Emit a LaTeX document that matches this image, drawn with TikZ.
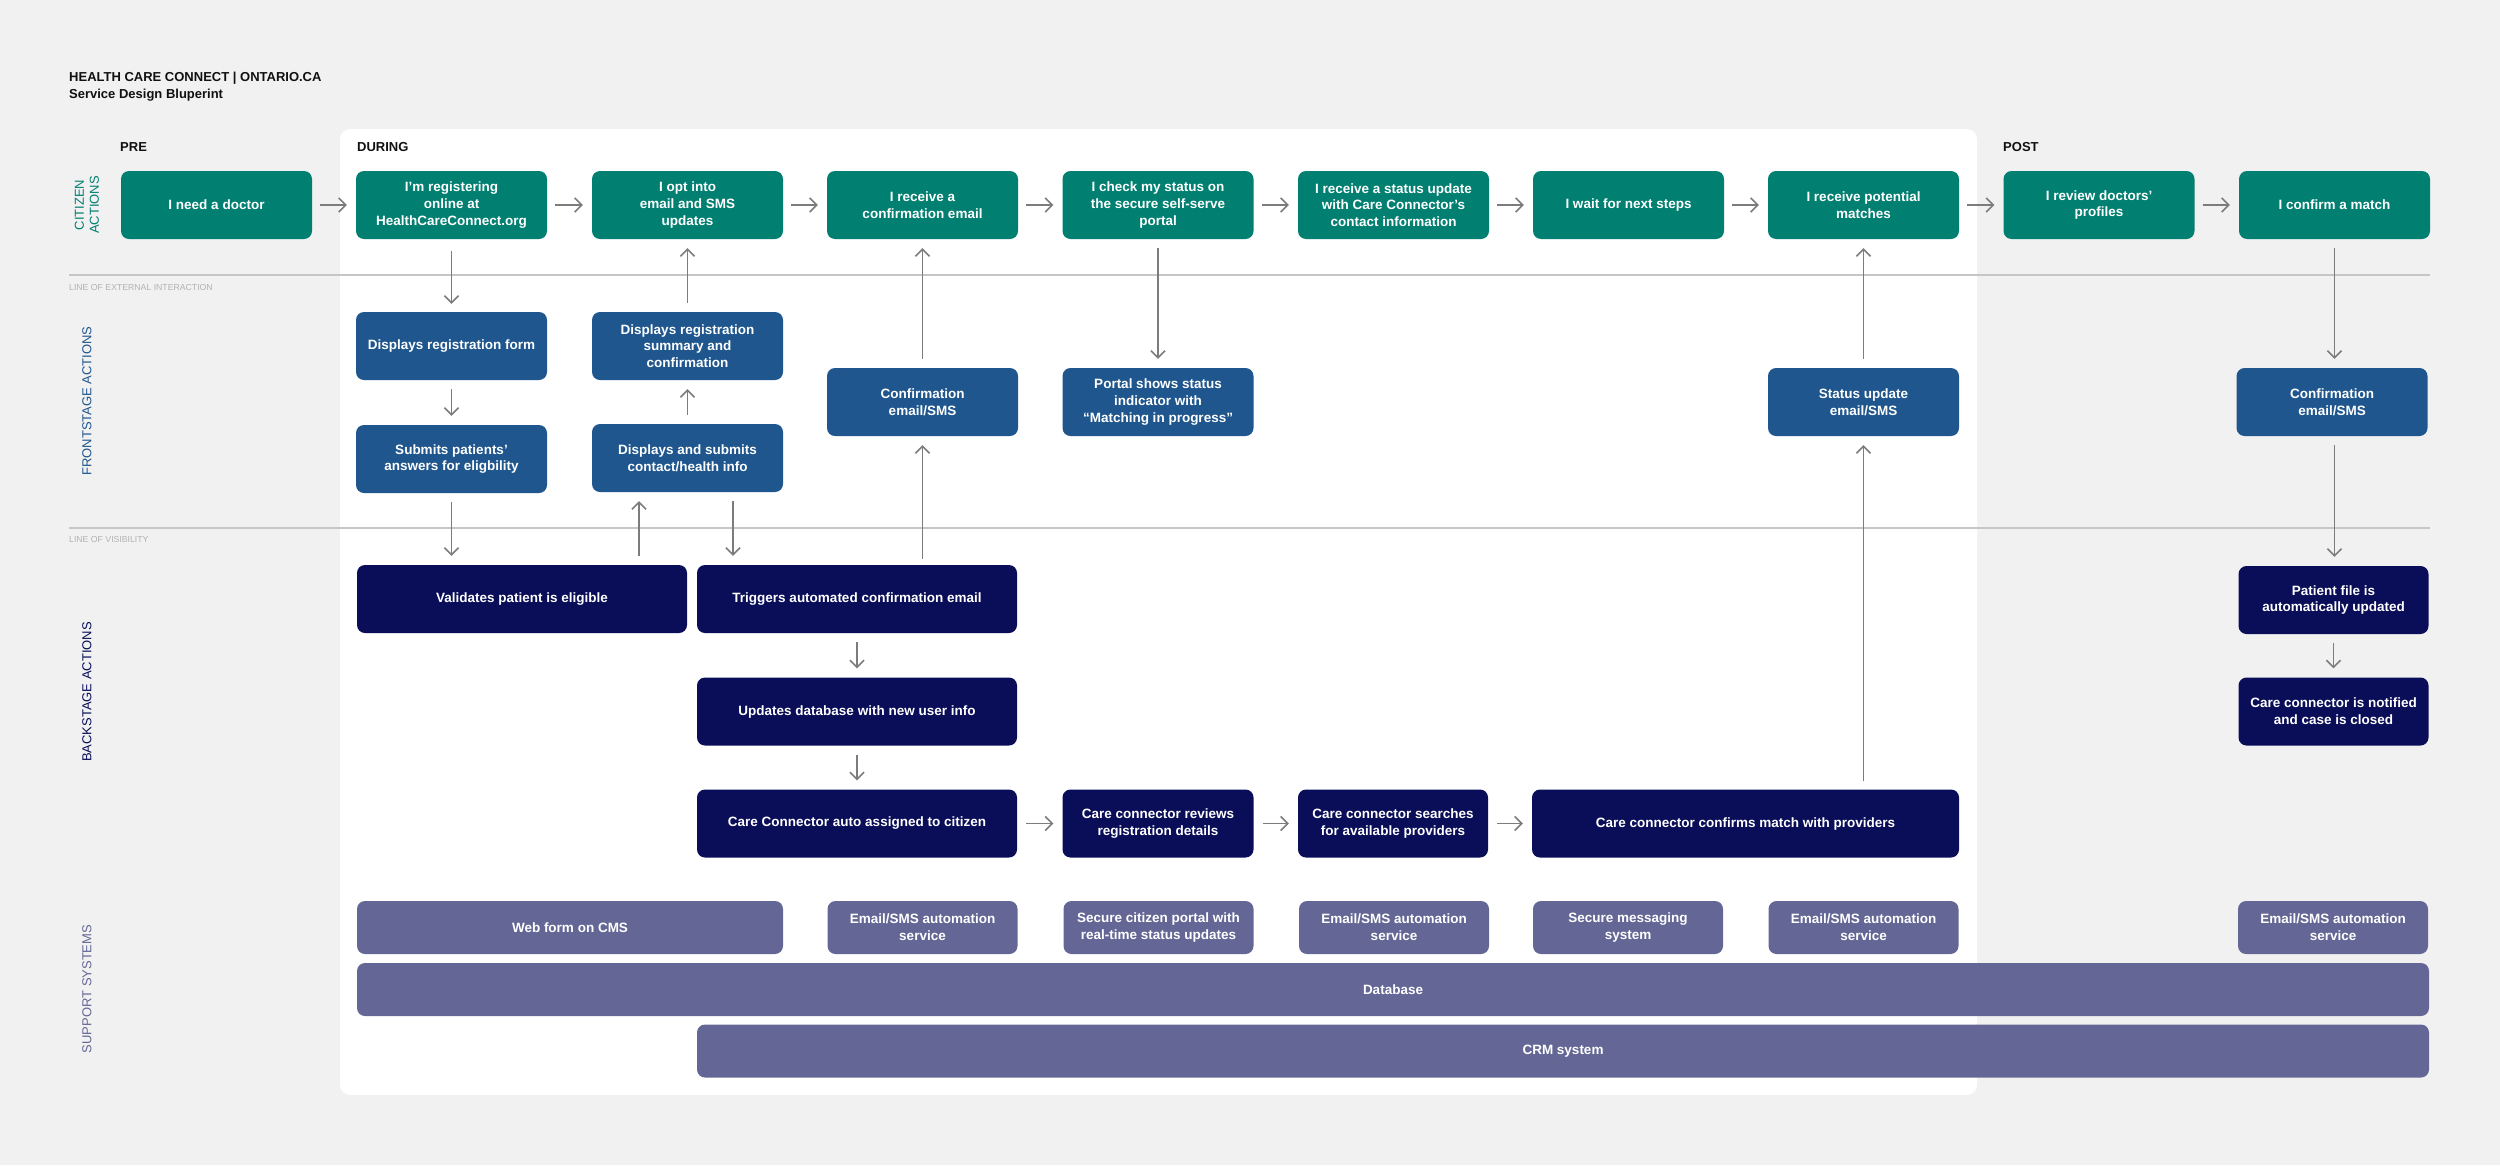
\documentclass[tikz,border=0pt]{standalone}
\usepackage{fontspec}
\setmainfont{Liberation Sans}
\usetikzlibrary{arrows.meta,calc}
\definecolor{bgC}{HTML}{F1F1F1}
\definecolor{citC}{HTML}{017F71}
\definecolor{frontC}{HTML}{1F568D}
\definecolor{backC}{HTML}{0A0E58}
\definecolor{supC}{HTML}{646795}
\definecolor{arrC}{HTML}{7C7C7C}
\definecolor{sepC}{HTML}{C6C6C6}
\definecolor{lablC}{HTML}{B2B2B2}
\definecolor{titleC}{HTML}{111111}
\begin{document}
\begin{tikzpicture}[x=1pt,y=-1pt,
  box/.style={rounded corners=8pt, minimum height=68pt, inner sep=0pt, align=center, text=white,
    font=\fontsize{13.5}{16.7}\selectfont\bfseries},
  cit/.style={box, fill=citC, minimum width=191pt},
  front/.style={box, fill=frontC, minimum width=191pt},
  back/.style={box, fill=backC},
  sup/.style={box, fill=supC, minimum height=53pt},
  arr/.style={draw=arrC, line width=1.6pt, -{Straight Barb[length=7pt,width=14pt]}, shorten >=9pt, shorten <=9pt},
  sepline/.style={draw=sepC, line width=1.5pt},
  linelab/.style={anchor=west, inner sep=0pt, text=lablC, font=\fontsize{8.7}{10}\selectfont},
  rowlab/.style={rotate=90, align=center, inner sep=0pt, font=\fontsize{13}{15}\selectfont},
  phase/.style={anchor=west, inner sep=0pt, text=titleC, font=\fontsize{13}{15}\selectfont\bfseries},
  ]
\useasboundingbox (0,0) rectangle (2500,1165);
\fill[bgC] (0,0) rectangle (2500,1165);
\fill[white, rounded corners=10pt] (340,129) rectangle (1977,1095);

% title
\node[phase] (t1) at (69,78) {HEALTH CARE CONNECT | ONTARIO.CA};
\node[phase] (t2) at (69,95) {Service Design Bluperint};
\node[phase] (pre) at (120,147) {PRE};
\node[phase] (during) at (357,147) {DURING};
\node[phase] (post) at (2003,147) {POST};

% separation lines
\draw[sepline] (69,275) -- (2430,275);
\draw[sepline] (69,528) -- (2430,528);
\node[linelab] (ll1) at (69,287) {LINE OF EXTERNAL INTERACTION};
\node[linelab] (ll2) at (69,539) {LINE OF VISIBILITY};

% row labels
\node[rowlab, text=citC] (rl1) at (87,205) {CITIZEN\\ACTIONS};
\node[rowlab, text=frontC] (rl2) at (87,401) {FRONTSTAGE ACTIONS};
\node[rowlab, text=backC] (rl3) at (87,692) {BACKSTAGE ACTIONS};
\node[rowlab, text=supC] (rl4) at (87,989) {SUPPORT SYSTEMS};

% citizen actions
\node[cit] (c0) at (216.5,205) {I need a doctor};
\node[cit] (c1) at (451.5,205) {I’m registering\\online at\\HealthCareConnect.org};
\node[cit] (c2) at (687.5,205) {I opt into\\email and SMS\\updates};
\node[cit] (c3) at (922.5,205) {I receive a\\confirmation email};
\node[cit] (c4) at (1158,205) {I check my status on\\the secure self-serve\\portal};
\node[cit] (c5) at (1393.5,205) {I receive a status update\\with Care Connector’s\\contact information};
\node[cit] (c6) at (1628.5,205) {I wait for next steps};
\node[cit] (c7) at (1863.5,205) {I receive potential\\matches};
\node[cit] (c8) at (2099,205) {I review doctors’\\profiles};
\node[cit] (c9) at (2334.5,205) {I confirm a match};

% frontstage
\node[front] (f1a) at (451.5,346) {Displays registration form};
\node[front] (f1b) at (451.5,459) {Submits patients’\\answers for eligbility};
\node[front] (f2a) at (687.5,346) {Displays registration\\summary and\\confirmation};
\node[front] (f2b) at (687.5,458) {Displays and submits\\contact/health info};
\node[front] (f3) at (922.5,402) {Confirmation\\email/SMS};
\node[front] (f4) at (1158,402) {Portal shows status\\indicator with\\“Matching in progress”};
\node[front] (f7) at (1863.5,402) {Status update\\email/SMS};
\node[front] (f9) at (2332,402) {Confirmation\\email/SMS};

% backstage
\node[back, minimum width=330pt] (b1) at (522,599) {Validates patient is eligible};
\node[back, minimum width=320pt] (b2) at (857,599) {Triggers automated confirmation email};
\node[back, minimum width=320pt] (b3) at (857,711.5) {Updates database with new user info};
\node[back, minimum width=320pt] (b4) at (857,823.5) {Care Connector auto assigned to citizen};
\node[back, minimum width=191pt] (b5) at (1158,823.5) {Care connector reviews\\registration details};
\node[back, minimum width=190pt] (b6) at (1393,823.5) {Care connector searches\\for available providers};
\node[back, minimum width=427pt] (b7) at (1745.5,823.5) {Care connector confirms match with providers};
\node[back, minimum width=190pt] (b9a) at (2333.5,600) {Patient file is\\automatically updated};
\node[back, minimum width=190pt] (b9b) at (2333.5,711.5) {Care connector is notified\\and case is closed};

% support systems
\node[sup, minimum width=426pt] (s1) at (570,927.5) {Web form on CMS};
\node[sup, minimum width=190pt] (s3) at (922.5,927.5) {Email/SMS automation\\service};
\node[sup, minimum width=190pt] (s4) at (1158.5,927.5) {Secure citizen portal with\\real-time status updates};
\node[sup, minimum width=190pt] (s5) at (1394,927.5) {Email/SMS automation\\service};
\node[sup, minimum width=190pt] (s6) at (1628,927.5) {Secure messaging\\system};
\node[sup, minimum width=190pt] (s7) at (1863.5,927.5) {Email/SMS automation\\service};
\node[sup, minimum width=190pt] (s9) at (2333,927.5) {Email/SMS automation\\service};
\node[sup, minimum width=2072pt] (db) at (1393,989.5) {Database};
\node[sup, minimum width=1732pt] (crm) at (1563,1051) {CRM system};

% helper x positions
\coordinate (xa) at (639,0);
\coordinate (xb) at (733,0);

% citizen flow
\draw[arr, shorten <=8pt] (c0) -- (c1);
\draw[arr, shorten <=8pt] (c1) -- (c2);
\draw[arr, shorten <=8pt] (c2) -- (c3);
\draw[arr, shorten <=8pt] (c3) -- (c4);
\draw[arr, shorten <=8pt] (c4) -- (c5);
\draw[arr, shorten <=8pt] (c5) -- (c6);
\draw[arr, shorten <=8pt] (c6) -- (c7);
\draw[arr, shorten <=8pt] (c7) -- (c8);
\draw[arr, shorten <=8pt] (c8) -- (c9);

% vertical flows
\draw[arr, shorten <=12pt, shorten >=8pt] (c1) -- (f1a);
\draw[arr] (f1a) -- (f1b);
\draw[arr] (f1b.south) -- (f1b.south |- b1.north);
\draw[arr] (b1.north -| xa) -- (f2b.south -| xa);
\draw[arr] (f2b.south -| xb) -- (b2.north -| xb);
\draw[arr] (f2b) -- (f2a);
\draw[arr] (f2a) -- (c2);
\draw[arr, shorten <=6pt] (b2.north -| f3.south) -- (f3.south);
\draw[arr] (f3) -- (c3);
\draw[arr] (c4) -- (f4);
\draw[arr] (b2) -- (b3);
\draw[arr] (b3) -- (b4);
\draw[arr] (b4) -- (b5);
\draw[arr] (b5) -- (b6);
\draw[arr] (b6) -- (b7);
\draw[arr, shorten <=8pt] (b7.north -| f7.south) -- (f7.south);
\draw[arr] (f7) -- (c7);
\draw[arr] (c9.south) -- (c9.south |- f9.north);
\draw[arr] (f9.south -| c9.south) -- (b9a.north -| c9.south);
\draw[arr] (b9a) -- (b9b);
\end{tikzpicture}
\end{document}
